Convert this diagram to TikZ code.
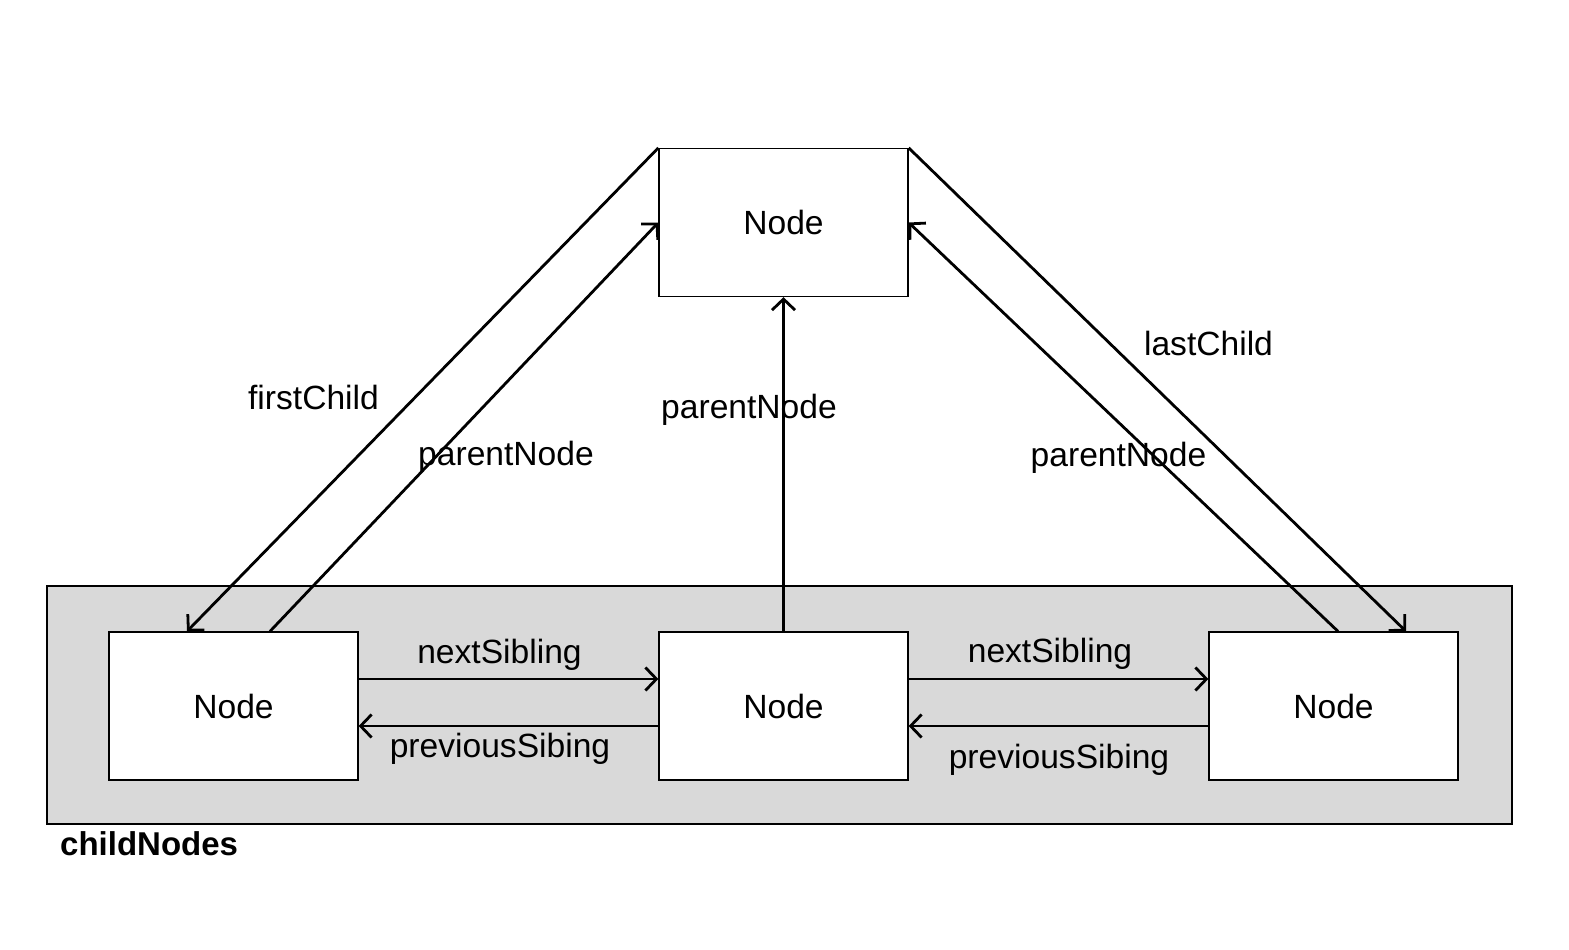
\documentclass[tikz,border=0pt]{standalone}
\usepackage{fontspec}
\setmainfont{Liberation Sans}
\usetikzlibrary{arrows.meta}
\definecolor{boxgrey}{HTML}{D9D9D9}
\tikzset{
  nodebox/.style={draw=black, line width=1.3pt, fill=white, minimum width=249pt, minimum height=148pt, inner sep=0pt, font=\fontsize{33.6}{40}\selectfont},
  link/.style={line width=2.8pt, -{Straight Barb[length=11pt,width=23pt]}},
  lbl/.style={anchor=base, inner sep=0pt, font=\fontsize{33.6}{40}\selectfont},
  frame/.style={draw=black, line width=2.5pt, fill=boxgrey, minimum width=1465pt, minimum height=238pt, inner sep=0pt}
}
\begin{document}
\begin{tikzpicture}[x=1pt,y=-1pt]
\useasboundingbox (0,0) rectangle (1569,950);
\node[frame] (C) at (779.5,705) {};
\node[anchor=base west, inner sep=0pt, font=\fontsize{33}{40}\selectfont\bfseries] (CL) at (60,855) {childNodes};

\node[nodebox] (T) at (783.5,222.5) {Node};
\node[nodebox] (L) at (233.5,706) {Node};
\node[nodebox] (M) at (783.5,706) {Node};
\node[nodebox] (R) at (1333.5,706) {Node};

% parent / child connectors
\draw[link] (T.north west) -- ([xshift=-46.5pt]L.north);
\draw[link] ([xshift=36.5pt]L.north) -- (T.west);
\draw[link] (M.north) -- (T.south);
\draw[link] (T.north east) -- ([xshift=72.5pt]R.north);
\draw[link] ([xshift=4.5pt]R.north) -- (T.east);

% sibling connectors
\draw[link] ([yshift=27pt]L.east) -- ([yshift=27pt]M.west);
\draw[link] ([yshift=-20pt]M.west) -- ([yshift=-20pt]L.east);
\draw[link] ([yshift=27pt]M.east) -- ([yshift=27pt]R.west);
\draw[link] ([yshift=-20pt]R.west) -- ([yshift=-20pt]M.east);

% labels
\node[lbl] (l1) at (313.5,409) {firstChild};
\node[lbl] (l2) at (506,465) {parentNode};
\node[lbl] (l3) at (749,418) {parentNode};
\node[lbl] (l4) at (1208.5,355) {lastChild};
\node[lbl] (l5) at (1118.5,466) {parentNode};
\node[lbl] (l6) at (499.5,663) {nextSibling};
\node[lbl] (l7) at (500,757) {previousSibing};
\node[lbl] (l8) at (1050,662) {nextSibling};
\node[lbl] (l9) at (1059,768) {previousSibing};
\end{tikzpicture}
\end{document}
